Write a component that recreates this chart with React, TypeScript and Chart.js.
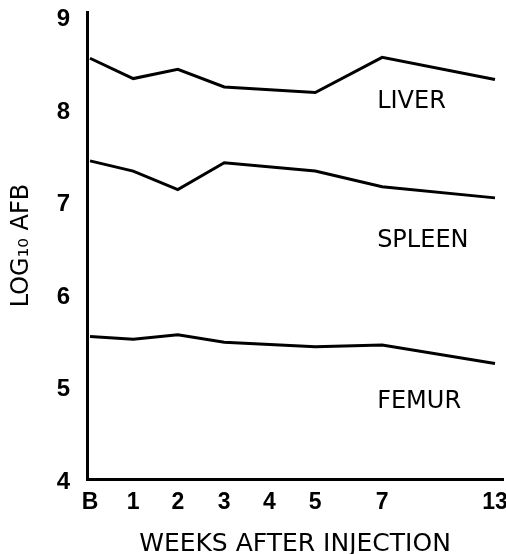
import React, { useEffect, useRef } from 'react';
import { Chart, registerables } from 'chart.js';

Chart.register(...registerables);

// ---- data ----
const weekLabels = ['B', '1', '2', '3', '4', '5', '7', '13'];
// axis positions of the week ticks (the original axis is not linear in weeks)
const weekAxisPos = [0, 0.95, 1.93, 2.95, 3.94, 4.95, 6.42, 8.9];
const liver = [8.55, 8.33, 8.43, 8.24, null, 8.18, 8.56, 8.32];
const spleen = [7.44, 7.33, 7.13, 7.42, null, 7.33, 7.16, 7.04];
const femur = [5.54, 5.51, 5.56, 5.48, null, 5.43, 5.45, 5.25];
const yTickValues = [4, 5, 6, 7, 8, 9];
const seriesNames = ['LIVER', 'SPLEEN', 'FEMUR'];

const TEXT_FONT = "'DejaVu Sans', sans-serif";
const TICK_FONT = "'Liberation Sans', Arial, sans-serif";

const toPoints = (vals: (number | null)[]) =>
  weekAxisPos.map((x, i) => ({ x, y: vals[i] }));

const seriesLabelPlugin = {
  id: 'seriesLabels',
  afterDatasetsDraw(chart: any, _args: any, opts: any) {
    const { ctx, scales } = chart;
    ctx.save();
    ctx.fillStyle = '#000';
    ctx.font = `24px ${TEXT_FONT}`;
    ctx.textAlign = 'left';
    ctx.textBaseline = 'middle';
    (opts.items || []).forEach((it: any) => {
      ctx.fillText(it.text, scales.x.getPixelForValue(it.x), scales.y.getPixelForValue(it.y));
    });
    ctx.restore();
  },
};

export default function App() {
  const canvasRef = useRef<HTMLCanvasElement | null>(null);

  useEffect(() => {
    if (!canvasRef.current) return;
    const lineStyle = {
      borderColor: '#000',
      backgroundColor: '#000',
      borderWidth: 3,
      pointRadius: 0,
      tension: 0,
      spanGaps: true,
      fill: false,
    };
    const chart = new Chart(canvasRef.current, {
      type: 'line',
      data: {
        datasets: [
          { label: seriesNames[0], data: toPoints(liver), ...lineStyle },
          { label: seriesNames[1], data: toPoints(spleen), ...lineStyle },
          { label: seriesNames[2], data: toPoints(femur), ...lineStyle },
        ] as any,
      },
      options: {
        responsive: false,
        animation: false,
        layout: { padding: { top: 12, right: 3, left: 0, bottom: 0 } },
        plugins: {
          legend: { display: false },
          tooltip: { enabled: false },
          seriesLabels: {
            items: [
              { text: seriesNames[0], x: 6.31, y: 8.08 },
              { text: seriesNames[1], x: 6.31, y: 6.58 },
              { text: seriesNames[2], x: 6.31, y: 4.84 },
            ],
          },
        } as any,
        scales: {
          x: {
            type: 'linear',
            min: -0.066,
            max: 9.076,
            grid: { display: false, drawTicks: false },
            border: { display: true, color: '#000', width: 3 },
            afterBuildTicks: (s: any) => {
              s.ticks = weekAxisPos.map((v) => ({ value: v }));
            },
            afterFit: (s: any) => {
              s.height = 75;
              s.paddingLeft = 0;
              s.paddingRight = 0;
            },
            ticks: {
              autoSkip: false,
              maxRotation: 0,
              color: '#000',
              padding: 12,
              font: { family: TICK_FONT, size: 23, weight: 'bold', lineHeight: 1 },
              callback: (_v: any, i: number) => weekLabels[i],
            },
            title: {
              display: true,
              text: 'WEEKS AFTER INJECTION',
              color: '#000',
              font: { family: TEXT_FONT, size: 25, lineHeight: 0.8 },
              padding: 0,
            },
          },
          y: {
            type: 'linear',
            min: 4,
            max: 9.05,
            grid: { display: false, drawTicks: false },
            border: { display: true, color: '#000', width: 3 },
            afterBuildTicks: (s: any) => {
              s.ticks = yTickValues.map((v) => ({ value: v }));
            },
            afterFit: (s: any) => {
              s.width = 87;
              s.paddingTop = 0;
              s.paddingBottom = 0;
            },
            ticks: {
              color: '#000',
              padding: 17,
              labelOffset: 3,
              font: { family: TICK_FONT, size: 24, weight: 'bold', lineHeight: 1 },
              callback: (v: any) => String(v),
            },
            title: {
              display: true,
              text: 'LOG₁₀ AFB',
              color: '#000',
              font: { family: TEXT_FONT, size: 24, lineHeight: 1 },
              padding: { top: 9.5, bottom: 0 },
            },
          },
        } as any,
      },
      plugins: [seriesLabelPlugin],
    });
    return () => chart.destroy();
  }, []);

  return (
    <div style={{ position: 'absolute', left: 0, top: 0, width: 506, height: 554, background: '#fff', overflow: 'hidden' }}>
      <canvas ref={canvasRef} width={506} height={554} style={{ display: 'block' }} />
    </div>
  );
}
